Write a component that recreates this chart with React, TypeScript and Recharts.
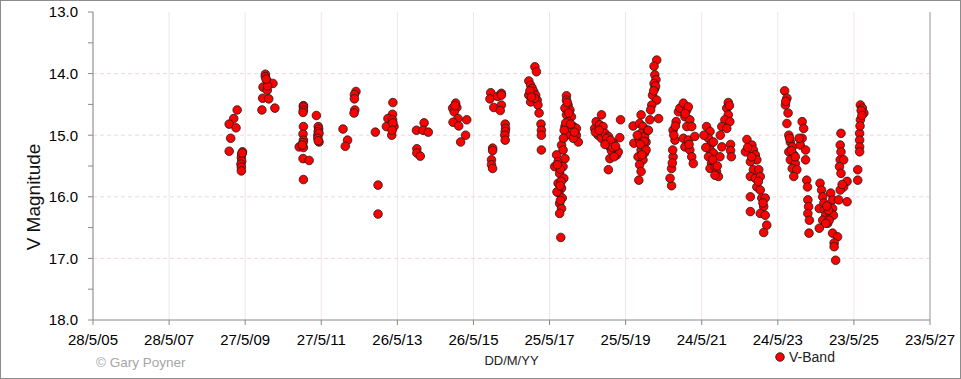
import { ScatterChart, Scatter, XAxis, YAxis, CartesianGrid, ReferenceLine, Label } from 'recharts'

// observations as [decimal year, V magnitude], one list per observing season
const season2009a = [
  [2009.19, 14.59], [2009.10, 14.73], [2008.98, 14.82], [2009.16, 14.88], [2009.02, 15.05], [2008.98, 15.26],
  [2009.33, 15.27], [2009.31, 15.31], [2009.30, 15.36], [2009.31, 15.42], [2009.29, 15.47], [2009.30, 15.52],
  [2009.30, 15.58], [2009.32, 15.29],
]
const season2009b = [
  [2009.93, 14.01], [2009.93, 14.05], [2009.98, 14.12], [2010.13, 14.16], [2009.87, 14.22], [2009.98, 14.27],
  [2009.99, 14.20], [2009.86, 14.40], [2010.02, 14.41], [2009.84, 14.59], [2010.18, 14.56], [2009.95, 14.09],
]
const season2011 = [
  [2010.93, 14.52], [2010.93, 14.54], [2010.93, 14.59], [2010.92, 14.63], [2010.93, 14.86], [2010.92, 14.98],
  [2010.93, 15.08], [2010.92, 15.12], [2010.82, 15.19], [2010.93, 15.20], [2010.92, 15.38], [2010.93, 15.72],
  [2011.08, 15.41], [2010.90, 15.16], [2011.27, 14.68], [2011.32, 14.86], [2011.33, 14.90], [2011.32, 14.94],
  [2011.31, 15.00], [2011.34, 14.97], [2011.31, 15.05], [2011.34, 15.11], [2011.32, 15.09],
]
const season2012 = [
  [2011.97, 14.90], [2012.09, 15.08], [2012.03, 15.18], [2012.31, 14.29], [2012.27, 14.34], [2012.27, 14.41],
  [2012.28, 14.59], [2012.26, 14.64],
]
const season2013 = [
  [2012.82, 14.95], [2012.89, 15.81], [2012.89, 16.28], [2013.28, 14.47], [2013.27, 14.66], [2013.15, 14.73],
  [2013.27, 14.75], [2013.22, 14.86], [2013.31, 14.86], [2013.11, 14.86], [2013.25, 15.00], [2013.28, 14.80],
  [2013.26, 14.92],
]
const season2014 = [
  [2013.90, 14.92], [2014.10, 14.80], [2014.07, 14.92], [2014.21, 14.95], [2013.91, 15.22], [2013.91, 15.29],
  [2014.00, 15.34],
]
const season2015 = [
  [2014.93, 14.48], [2014.85, 14.56], [2014.96, 14.55], [2014.89, 14.62], [2014.99, 14.73], [2014.86, 14.79],
  [2015.22, 14.75], [2015.01, 14.85], [2015.19, 15.00], [2015.06, 15.11], [2014.91, 14.52],
]
const season2016 = [
  [2015.85, 14.31], [2015.83, 14.41], [2016.03, 14.37], [2016.13, 14.32], [2016.13, 14.35], [2015.93, 14.55],
  [2016.13, 14.51], [2016.10, 14.60], [2015.90, 15.21], [2015.90, 15.25], [2015.87, 15.40], [2015.87, 15.48],
  [2015.90, 15.54], [2016.23, 14.82], [2016.24, 14.89], [2016.23, 14.94], [2016.22, 15.00], [2016.23, 15.08],
]
const season2017a = [
  [2017.01, 13.89], [2017.05, 13.97], [2016.85, 14.12], [2016.90, 14.19], [2016.94, 14.24], [2016.98, 14.29],
  [2017.03, 14.35], [2016.85, 14.35], [2017.07, 14.43], [2016.90, 14.46], [2017.09, 14.51], [2017.12, 14.64],
  [2017.17, 14.82], [2017.18, 14.92], [2017.18, 15.00], [2017.18, 15.24], [2016.88, 14.28], [2017.00, 14.40],
  [2016.92, 14.38],
]
const season2017b = [
  [2017.53, 15.51], [2017.58, 15.32], [2017.62, 15.43], [2017.71, 15.16], [2017.75, 15.24], [2017.80, 15.38],
  [2017.75, 15.51], [2017.66, 15.62], [2017.77, 15.70], [2017.62, 15.78], [2017.71, 15.86], [2017.64, 15.94],
  [2017.73, 16.02], [2017.66, 16.11], [2017.71, 16.19], [2017.66, 16.27], [2017.59, 15.92], [2017.69, 16.66],
  [2017.68, 15.55], [2017.70, 15.75], [2017.68, 16.06], [2017.60, 15.48], [2017.67, 15.82],
]
const season2017c = [
  [2017.84, 14.36], [2017.84, 14.43], [2017.88, 14.51], [2017.93, 14.59], [2017.80, 14.56], [2017.84, 14.67],
  [2017.97, 14.70], [2017.88, 14.78], [2017.80, 14.86], [2018.02, 14.86], [2017.93, 14.94], [2018.10, 14.89],
  [2018.10, 15.00], [2018.15, 15.11], [2017.84, 15.00], [2018.02, 15.05], [2017.86, 14.47], [2017.90, 14.64],
  [2017.82, 14.80], [2017.95, 14.82], [2018.05, 14.95], [2017.78, 14.92], [2017.76, 15.05],
]
const season2018 = [
  [2018.58, 14.89], [2018.76, 14.67], [2018.62, 14.78], [2018.71, 14.83], [2018.80, 14.86], [2018.67, 15.00],
  [2018.76, 15.05], [2018.85, 14.97], [2018.89, 15.11], [2018.94, 15.02], [2018.98, 15.19], [2019.07, 15.13],
  [2019.11, 15.27], [2019.16, 15.32], [2018.98, 15.38], [2019.20, 15.27], [2018.94, 15.56], [2019.26, 14.75],
  [2019.24, 15.04], [2018.60, 14.95], [2018.70, 14.92], [2018.90, 15.05], [2019.00, 15.08], [2019.02, 15.25],
  [2019.09, 15.35], [2019.05, 15.20], [2018.85, 15.15], [2019.13, 15.18],
]
const season2019 = [
  [2019.59, 14.85], [2019.61, 15.13], [2019.80, 14.67], [2019.76, 14.81], [2019.85, 14.86], [2019.80, 14.97],
  [2019.89, 15.02], [2019.76, 15.08], [2019.85, 15.16], [2019.93, 15.11], [2019.80, 15.24], [2019.89, 15.29],
  [2019.72, 15.35], [2019.85, 15.40], [2019.76, 15.48], [2019.80, 15.59], [2019.74, 15.73], [2019.93, 15.24],
  [2019.97, 14.92], [2019.70, 15.00], [2019.82, 15.32], [2019.88, 15.10], [2019.78, 15.15],
  [2020.21, 13.78], [2020.14, 13.88], [2020.16, 14.02], [2020.19, 14.10], [2020.14, 14.16], [2020.16, 14.24],
  [2020.10, 14.35], [2020.21, 14.43], [2020.08, 14.51], [2020.05, 14.59], [2020.26, 14.73], [2020.03, 14.75],
  [2019.99, 14.92], [2020.18, 14.20], [2020.13, 14.28],
]
const season2020 = [
  [2020.60, 15.82], [2020.56, 15.70], [2020.60, 15.54], [2020.64, 15.35], [2020.63, 15.24], [2020.69, 15.08],
  [2020.64, 14.92], [2020.72, 14.78], [2020.78, 14.62], [2020.82, 14.56], [2020.91, 14.48], [2020.95, 14.70],
  [2021.00, 14.59], [2021.04, 14.54], [2021.08, 14.75], [2021.00, 14.86], [2021.13, 14.86], [2020.91, 15.05],
  [2020.95, 15.19], [2021.04, 15.08], [2021.08, 15.24], [2021.13, 15.35], [2021.17, 15.46], [2021.21, 15.02],
  [2020.66, 15.00], [2020.70, 14.85], [2020.62, 15.45], [2020.96, 14.65], [2021.06, 15.15],
]
const season2021 = [
  [2021.52, 14.86], [2021.61, 14.94], [2021.57, 15.05], [2021.65, 15.13], [2021.61, 15.24], [2021.70, 15.29],
  [2021.57, 15.35], [2021.65, 15.46], [2021.61, 15.54], [2021.74, 15.51], [2021.78, 15.59], [2021.83, 15.67],
  [2021.74, 15.65], [2021.87, 15.35], [2021.92, 15.19], [2021.70, 15.11], [2021.45, 15.00], [2021.50, 15.20],
  [2021.68, 15.40], [2021.80, 15.50], [2022.09, 14.47], [2022.05, 14.56], [2022.09, 14.67], [2022.00, 14.75],
  [2022.13, 14.78], [2021.92, 14.86], [2022.05, 14.89], [2021.88, 15.00], [2022.15, 15.15], [2022.15, 15.25],
  [2022.17, 15.35], [2022.12, 14.52],
]
const season2022 = [
  [2022.58, 15.07], [2022.54, 15.27], [2022.71, 15.16], [2022.75, 15.24], [2022.80, 15.32], [2022.84, 15.40],
  [2022.67, 15.43], [2022.75, 15.56], [2022.89, 15.56], [2022.67, 15.67], [2022.80, 15.70], [2022.93, 15.67],
  [2022.84, 15.84], [2022.93, 15.89], [2022.97, 16.02], [2023.06, 16.02], [2023.02, 16.16], [2022.93, 16.27],
  [2023.06, 16.30], [2023.10, 16.46], [2023.02, 16.58], [2022.67, 16.00], [2022.67, 16.24], [2022.60, 15.20],
  [2022.70, 15.35], [2022.88, 15.75], [2023.00, 16.10],
]
const season2023 = [
  [2023.57, 14.28], [2023.63, 14.40], [2023.59, 14.51], [2023.66, 14.64], [2023.63, 14.81], [2023.68, 15.00],
  [2023.72, 15.11], [2023.77, 15.19], [2023.68, 15.27], [2023.81, 15.32], [2023.72, 15.40], [2023.85, 15.46],
  [2023.77, 15.54], [2023.89, 15.56], [2023.81, 15.67], [2024.03, 14.78], [2024.07, 14.89], [2024.03, 15.05],
  [2023.98, 15.16], [2024.12, 15.24], [2024.12, 15.40], [2023.60, 14.45], [2023.70, 15.05], [2023.75, 15.25],
  [2023.85, 15.35], [2023.95, 15.05],
]
const season2024 = [
  [2024.15, 15.73], [2024.17, 15.84], [2024.18, 16.05], [2024.20, 16.16], [2024.18, 16.27], [2024.22, 16.38],
  [2024.21, 16.59], [2024.50, 15.78], [2024.54, 15.89], [2024.57, 16.00], [2024.48, 16.19], [2024.61, 16.21],
  [2024.65, 16.30], [2024.57, 16.38], [2024.70, 16.43], [2024.78, 15.94], [2024.83, 16.05], [2024.83, 16.19],
  [2024.77, 16.27], [2024.85, 16.30], [2024.74, 16.38], [2024.65, 16.43], [2024.48, 16.51], [2024.83, 16.59],
  [2024.96, 16.65], [2024.87, 16.75], [2024.87, 16.81], [2024.91, 17.03], [2024.60, 16.10], [2024.72, 16.22],
  [2024.68, 16.15],
]
const season2025 = [
  [2025.05, 14.97], [2025.03, 15.16], [2025.05, 15.27], [2025.03, 15.40], [2025.12, 15.40], [2025.01, 15.51],
  [2025.05, 15.62], [2025.21, 15.75], [2025.12, 15.84], [2025.03, 15.89], [2024.99, 16.05], [2025.21, 16.08],
  [2025.08, 15.80], [2025.56, 14.51], [2025.61, 14.56], [2025.65, 14.64], [2025.56, 14.75], [2025.54, 14.97],
  [2025.54, 15.08], [2025.54, 15.19], [2025.54, 15.27], [2025.49, 15.56], [2025.49, 15.73], [2025.58, 14.60],
  [2025.55, 14.85], [2025.60, 14.68],
]

const xTickLabels = ['28/5/05', '28/5/07', '27/5/09', '27/5/11', '26/5/13', '26/5/15', '25/5/17', '25/5/19', '24/5/21', '24/5/23', '23/5/25', '23/5/27']
const yTicks = [13, 13.5, 14, 14.5, 15, 15.5, 16, 16.5, 17, 17.5, 18]
const yGridLines = [14, 15, 16, 17]

const DAY = 86400000
const yearToMs = (y: number) => (y - 1970) * 365.25 * DAY
const labelToMs = (s: string) => {
  const [d, m, yy] = s.split('/').map(Number)
  return Date.UTC(2000 + yy, m - 1, d)
}
const xTicks = xTickLabels.map(labelToMs)
const fmtDate = (v: number) => {
  const d = new Date(v)
  return `${d.getUTCDate()}/${d.getUTCMonth() + 1}/${String(d.getUTCFullYear() % 100).padStart(2, '0')}`
}

const data = [
  season2009a, season2009b, season2011, season2012, season2013, season2014, season2015, season2016,
  season2017a, season2017b, season2017c, season2018, season2019, season2020, season2021, season2022,
  season2023, season2024, season2025,
].flat().map(([yr, mag]) => ({ t: yearToMs(yr), mag }))

const FONT = '"Liberation Sans", Arial, sans-serif'

const Dot = (props: any) => (
  <circle cx={props.cx} cy={props.cy} r={4.3} fill="#ff0000" stroke="#1a1a1a" strokeWidth={0.8} />
)

export default function App() {
  return (
    <div style={{ position: 'absolute', left: 0, top: 0, width: 961, height: 379, background: '#fff' }}>
      <ScatterChart width={961} height={379} margin={{ top: 12, right: 31, left: 0, bottom: 0 }}>
        <CartesianGrid horizontal={false} stroke="#f2e3e9" strokeWidth={1} />
        {yGridLines.map((v) => (
          <ReferenceLine key={v} y={v} stroke="#f3d6df" strokeDasharray="4 3" />
        ))}
        <ReferenceLine x={xTicks[xTicks.length - 1]} stroke="#a0a0a0" />
        <XAxis
          type="number"
          dataKey="t"
          domain={[xTicks[0], xTicks[xTicks.length - 1]]}
          ticks={xTicks}
          tickFormatter={fmtDate}
          height={59}
          stroke="#888"
          tickSize={5}
          tickMargin={9}
          interval={0}
          tick={{ fontSize: 15, fill: '#000', fontFamily: FONT }}
        >
          <Label
            value="DD/M/YY"
            position="insideBottom"
            offset={14}
            style={{ fontSize: 13, fill: '#222', fontFamily: FONT }}
          />
        </XAxis>
        <YAxis
          type="number"
          dataKey="mag"
          reversed
          domain={[13, 18]}
          ticks={yTicks}
          interval={0}
          tickFormatter={(v: number) => (Number.isInteger(v) ? v.toFixed(1) : '')}
          width={93}
          stroke="#888"
          tickSize={5}
          tickMargin={10}
          tick={{ fontSize: 15, fill: '#000', fontFamily: FONT }}
        >
          <Label
            content={() => (
              <text
                x={33}
                y={197}
                transform="rotate(-90, 33, 197)"
                textAnchor="middle"
                dominantBaseline="central"
                style={{ fontSize: 19, fill: '#111', fontFamily: FONT }}
              >
                V Magnitude
              </text>
            )}
          />
        </YAxis>
        <Scatter name="V-Band" data={data} shape={Dot} isAnimationActive={false} />
      </ScatterChart>
      <div
        style={{
          position: 'absolute',
          left: 775,
          top: 349,
          display: 'flex',
          alignItems: 'center',
          fontFamily: FONT,
          fontSize: 14,
          color: '#222',
        }}
      >
        <svg width={10} height={10} style={{ marginRight: 4 }}>
          <circle cx={5} cy={5} r={4.3} fill="#ff0000" stroke="#1a1a1a" strokeWidth={0.8} />
        </svg>
        V-Band
      </div>
      <div
        style={{
          position: 'absolute',
          left: 96,
          top: 355,
          fontFamily: FONT,
          fontSize: 13.5,
          color: '#a6a6a6',
        }}
      >
        © Gary Poyner
      </div>
      <div
        style={{
          position: 'absolute',
          inset: 0,
          border: '1px solid #8c8c8c',
          boxSizing: 'border-box',
          pointerEvents: 'none',
        }}
      />
    </div>
  )
}
